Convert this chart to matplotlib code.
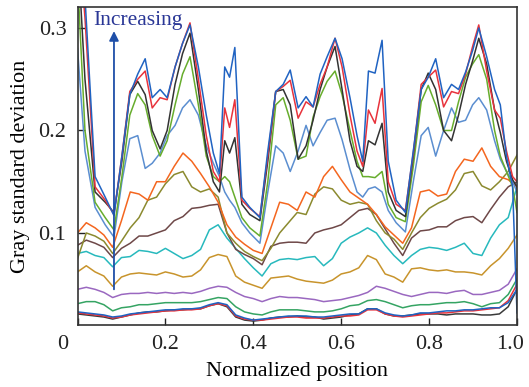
import matplotlib.pyplot as plt
import matplotlib.transforms as mtransforms

################################################################
# DATA
# upper five curves: shared, uneven x positions (denser at the peaks)
x_top = [0.000, 0.017, 0.040, 0.063, 0.083, 0.101, 0.119, 0.137, 0.154, 0.170,
         0.188, 0.204, 0.222, 0.239, 0.256, 0.275, 0.293, 0.309, 0.323, 0.335,
         0.346, 0.358, 0.374, 0.392, 0.415, 0.433, 0.451, 0.468, 0.484, 0.502,
         0.520, 0.536, 0.552, 0.568, 0.586, 0.602, 0.620, 0.636, 0.649, 0.662,
         0.677, 0.693, 0.707, 0.725, 0.746, 0.764, 0.782, 0.798, 0.815, 0.833,
         0.851, 0.867, 0.883, 0.899, 0.913, 0.931, 0.949, 0.962, 0.976, 0.990, 1.000]

blue_top = [0.40, 0.33, 0.155, 0.135, 0.117, 0.175, 0.235, 0.255, 0.270, 0.232,
            0.240, 0.232, 0.262, 0.285, 0.303, 0.262, 0.215, 0.178, 0.158, 0.262,
            0.252, 0.281, 0.135, 0.125, 0.115, 0.180, 0.238, 0.245, 0.259, 0.222,
            0.233, 0.223, 0.255, 0.272, 0.290, 0.270, 0.232, 0.195, 0.170, 0.258,
            0.256, 0.288, 0.170, 0.132, 0.120, 0.180, 0.240, 0.252, 0.270, 0.232,
            0.245, 0.240, 0.257, 0.278, 0.300, 0.272, 0.240, 0.225, 0.175, 0.145, 0.022]
red_top = [0.40, 0.31, 0.145, 0.132, 0.118, 0.175, 0.238, 0.250, 0.258, 0.222,
           0.232, 0.230, 0.262, 0.285, 0.305, 0.250, 0.195, 0.160, 0.150, 0.222,
           0.203, 0.230, 0.132, 0.124, 0.116, 0.175, 0.238, 0.243, 0.249, 0.212,
           0.228, 0.223, 0.245, 0.262, 0.290, 0.262, 0.215, 0.180, 0.165, 0.220,
           0.207, 0.241, 0.150, 0.128, 0.122, 0.178, 0.245, 0.252, 0.259, 0.223,
           0.238, 0.236, 0.255, 0.282, 0.303, 0.258, 0.220, 0.212, 0.180, 0.155, 0.150]
black_top = [0.38, 0.25, 0.140, 0.130, 0.120, 0.170, 0.235, 0.248, 0.235, 0.200,
             0.182, 0.200, 0.245, 0.275, 0.295, 0.240, 0.180, 0.150, 0.140, 0.190,
             0.178, 0.193, 0.128, 0.118, 0.112, 0.170, 0.238, 0.240, 0.225, 0.172,
             0.185, 0.210, 0.240, 0.262, 0.282, 0.240, 0.190, 0.165, 0.160, 0.190,
             0.186, 0.207, 0.140, 0.122, 0.116, 0.175, 0.240, 0.256, 0.240, 0.200,
             0.190, 0.215, 0.245, 0.268, 0.290, 0.265, 0.220, 0.198, 0.170, 0.152, 0.145]
green_top = [0.35, 0.20, 0.130, 0.115, 0.103, 0.155, 0.215, 0.236, 0.225, 0.195,
             0.175, 0.190, 0.225, 0.255, 0.272, 0.225, 0.175, 0.155, 0.150, 0.155,
             0.150, 0.135, 0.115, 0.105, 0.097, 0.150, 0.225, 0.232, 0.210, 0.172,
             0.175, 0.213, 0.233, 0.248, 0.258, 0.235, 0.200, 0.170, 0.155, 0.155,
             0.154, 0.160, 0.128, 0.115, 0.111, 0.165, 0.228, 0.244, 0.225, 0.200,
             0.200, 0.228, 0.252, 0.265, 0.274, 0.250, 0.200, 0.175, 0.160, 0.145, 0.120]
steel_top = [0.28, 0.18, 0.125, 0.108, 0.096, 0.150, 0.192, 0.195, 0.163, 0.168,
             0.178, 0.195, 0.205, 0.222, 0.230, 0.215, 0.185, 0.168, 0.155, 0.140,
             0.132, 0.125, 0.110, 0.100, 0.090, 0.140, 0.185, 0.178, 0.160, 0.180,
             0.205, 0.185, 0.198, 0.210, 0.212, 0.191, 0.162, 0.140, 0.135, 0.143,
             0.145, 0.140, 0.122, 0.110, 0.101, 0.150, 0.195, 0.203, 0.175, 0.200,
             0.222, 0.208, 0.210, 0.225, 0.232, 0.220, 0.190, 0.172, 0.160, 0.150, 0.140]

# lower curves: x every 0.02
x_low = [i / 50 for i in range(51)]

orange = [0.100, 0.110, 0.105, 0.098, 0.086, 0.112, 0.140, 0.138, 0.132, 0.150,
          0.150, 0.165, 0.178, 0.170, 0.158, 0.145, 0.130, 0.108, 0.096, 0.089,
          0.083, 0.080, 0.105, 0.130, 0.128, 0.122, 0.140, 0.135, 0.155, 0.165,
          0.152, 0.140, 0.134, 0.128, 0.118, 0.106, 0.098, 0.090, 0.105, 0.140,
          0.142, 0.136, 0.138, 0.160, 0.172, 0.170, 0.183, 0.165, 0.155, 0.152, 0.145]
olive = [0.075, 0.100, 0.097, 0.092, 0.080, 0.092, 0.105, 0.115, 0.132, 0.135,
         0.148, 0.157, 0.160, 0.145, 0.140, 0.143, 0.135, 0.100, 0.090, 0.082,
         0.077, 0.073, 0.085, 0.100, 0.110, 0.120, 0.118, 0.138, 0.145, 0.143,
         0.132, 0.128, 0.130, 0.128, 0.112, 0.100, 0.094, 0.084, 0.100, 0.115,
         0.124, 0.129, 0.133, 0.142, 0.158, 0.160, 0.146, 0.142, 0.150, 0.160, 0.176]
brown = [0.088, 0.093, 0.090, 0.086, 0.076, 0.085, 0.090, 0.097, 0.097, 0.100,
         0.103, 0.112, 0.116, 0.124, 0.125, 0.127, 0.128, 0.100, 0.084, 0.079,
         0.075, 0.069, 0.087, 0.090, 0.091, 0.091, 0.090, 0.100, 0.103, 0.105,
         0.108, 0.115, 0.122, 0.124, 0.118, 0.104, 0.090, 0.078, 0.095, 0.102,
         0.103, 0.106, 0.106, 0.112, 0.115, 0.116, 0.110, 0.123, 0.135, 0.145, 0.150]
cyan = [0.080, 0.082, 0.078, 0.076, 0.067, 0.076, 0.077, 0.083, 0.082, 0.080,
        0.085, 0.080, 0.075, 0.078, 0.084, 0.103, 0.108, 0.095, 0.085, 0.075,
        0.066, 0.058, 0.070, 0.074, 0.075, 0.074, 0.076, 0.077, 0.068, 0.075,
        0.090, 0.096, 0.100, 0.105, 0.100, 0.088, 0.078, 0.070, 0.078, 0.084,
        0.086, 0.085, 0.083, 0.086, 0.090, 0.080, 0.078, 0.095, 0.108, 0.115, 0.145]
ochre = [0.062, 0.068, 0.062, 0.058, 0.048, 0.057, 0.060, 0.061, 0.060, 0.059,
         0.062, 0.060, 0.057, 0.058, 0.064, 0.076, 0.079, 0.077, 0.058, 0.052,
         0.049, 0.046, 0.056, 0.057, 0.058, 0.055, 0.053, 0.052, 0.051, 0.054,
         0.060, 0.062, 0.066, 0.078, 0.074, 0.060, 0.057, 0.052, 0.065, 0.066,
         0.064, 0.063, 0.064, 0.062, 0.062, 0.061, 0.059, 0.068, 0.075, 0.085, 0.098]
purple = [0.045, 0.047, 0.045, 0.042, 0.037, 0.040, 0.041, 0.041, 0.042, 0.041,
          0.042, 0.041, 0.042, 0.041, 0.043, 0.046, 0.048, 0.047, 0.042, 0.038,
          0.036, 0.033, 0.036, 0.038, 0.037, 0.037, 0.036, 0.035, 0.033, 0.034,
          0.035, 0.037, 0.039, 0.042, 0.048, 0.046, 0.043, 0.040, 0.038, 0.040,
          0.042, 0.042, 0.041, 0.043, 0.044, 0.040, 0.040, 0.042, 0.044, 0.050, 0.065]
green_low = [0.031, 0.033, 0.033, 0.030, 0.024, 0.027, 0.028, 0.030, 0.030, 0.031,
             0.032, 0.032, 0.032, 0.032, 0.033, 0.035, 0.037, 0.036, 0.028, 0.023,
             0.021, 0.020, 0.023, 0.025, 0.025, 0.025, 0.024, 0.023, 0.023, 0.024,
             0.026, 0.029, 0.030, 0.034, 0.035, 0.033, 0.030, 0.027, 0.029, 0.030,
             0.030, 0.031, 0.032, 0.032, 0.033, 0.031, 0.028, 0.031, 0.032, 0.040, 0.055]
black_low = [0.021, 0.020, 0.019, 0.018, 0.016, 0.018, 0.020, 0.022, 0.023, 0.023,
             0.024, 0.025, 0.025, 0.026, 0.026, 0.029, 0.031, 0.028, 0.018, 0.015,
             0.014, 0.015, 0.017, 0.018, 0.018, 0.019, 0.018, 0.018, 0.016, 0.017,
             0.018, 0.020, 0.021, 0.026, 0.026, 0.021, 0.019, 0.019, 0.020, 0.021,
             0.021, 0.021, 0.020, 0.021, 0.021, 0.021, 0.020, 0.020, 0.021, 0.028, 0.045]
red_low = [0.022, 0.021, 0.020, 0.019, 0.017, 0.018, 0.020, 0.021, 0.022, 0.023,
           0.024, 0.024, 0.025, 0.025, 0.026, 0.029, 0.031, 0.029, 0.019, 0.016,
           0.015, 0.015, 0.016, 0.017, 0.018, 0.018, 0.017, 0.017, 0.017, 0.018,
           0.019, 0.019, 0.020, 0.025, 0.025, 0.021, 0.019, 0.018, 0.019, 0.020,
           0.021, 0.022, 0.022, 0.023, 0.024, 0.024, 0.025, 0.026, 0.027, 0.034, 0.050]
blue_low = [0.023, 0.022, 0.021, 0.020, 0.018, 0.019, 0.021, 0.022, 0.023, 0.024,
            0.025, 0.025, 0.026, 0.026, 0.027, 0.030, 0.032, 0.030, 0.020, 0.017,
            0.015, 0.016, 0.017, 0.018, 0.019, 0.019, 0.019, 0.018, 0.018, 0.019,
            0.020, 0.021, 0.021, 0.026, 0.026, 0.022, 0.020, 0.019, 0.020, 0.022,
            0.022, 0.023, 0.024, 0.024, 0.025, 0.025, 0.026, 0.027, 0.027, 0.032, 0.045]

x_ticks = [0, 0.2, 0.4, 0.6, 0.8, 1.0]
x_ticklabels = ["0", "0.2", "0.4", "0.6", "0.8", "1.0"]
y_ticks = [0.1, 0.2, 0.3]
y_ticklabels = ["0.1", "0.2", "0.3"]
################################################################

################################################################
# FIGURE CONFIGURATION
plt.rcParams['font.family'] = ['Liberation Serif', 'DejaVu Serif']
line_w = 1.1
font_s = 16
################################################################

fig = plt.figure(figsize=(5.29, 3.87), dpi=100)
ax = fig.add_axes([77.5 / 529, 1 - 325 / 387, 439.5 / 529, 318 / 387])

# bottom to top, so the upper curves sit on top
low_series = [
    (black_low, '#3a3a3a'), (red_low, '#e8333c'), (blue_low, '#2063c2'),
    (green_low, '#35a463'), (purple, '#9a68c0'), (ochre, '#c8942c'),
    (cyan, '#27b9bd'), (brown, '#6e4848'), (olive, '#8b8a2f'), (orange, '#f4661f'),
]
for yv, col in low_series:
    ax.plot(x_low, yv, color=col, lw=line_w)

top_series = [
    (steel_top, '#5b8ed0'), (green_top, '#67ad2d'), (black_top, '#333333'),
    (red_top, '#e8333c'), (blue_top, '#2063c2'),
]
for yv, col in top_series:
    ax.plot(x_top, yv, color=col, lw=line_w)

# "Increasing" arrow
ax.annotate('', xy=(0.083, 0.297), xytext=(0.083, 0.045),
            arrowprops=dict(arrowstyle='-|>', color='#1f4fa8', lw=1.3,
                            mutation_scale=14, shrinkA=0, shrinkB=0))
ax.text(0.137, 0.307, 'Increasing', color='#2a3796', fontsize=15.5,
        ha='center', va='center')

ax.set_xlim(0, 1)
ax.set_ylim(0.0102, 0.3205)
ax.set_xticks(x_ticks)
ax.set_xticklabels(x_ticklabels)
ax.set_yticks(y_ticks)
ax.set_yticklabels(y_ticklabels)
ax.tick_params(direction='in', length=5, width=1, labelsize=font_s,
               top=False, right=False, colors='#222222')
ax.tick_params(axis='x', pad=7)
ax.tick_params(axis='y', pad=8)

# the end labels are nudged inwards, as in the source figure
xlabs = ax.get_xticklabels()
xlabs[0].set_transform(xlabs[0].get_transform() +
                       mtransforms.ScaledTranslation(-0.145, 0, fig.dpi_scale_trans))
xlabs[-1].set_transform(xlabs[-1].get_transform() +
                        mtransforms.ScaledTranslation(-0.07, 0, fig.dpi_scale_trans))

for sp in ax.spines.values():
    sp.set_color('#333333')
    sp.set_linewidth(1.2)

ax.set_xlabel('Normalized position', fontsize=font_s, labelpad=6)
ax.set_ylabel('Gray standard deviation', fontsize=font_s, labelpad=6)

fig.savefig('out.png', dpi=100)
